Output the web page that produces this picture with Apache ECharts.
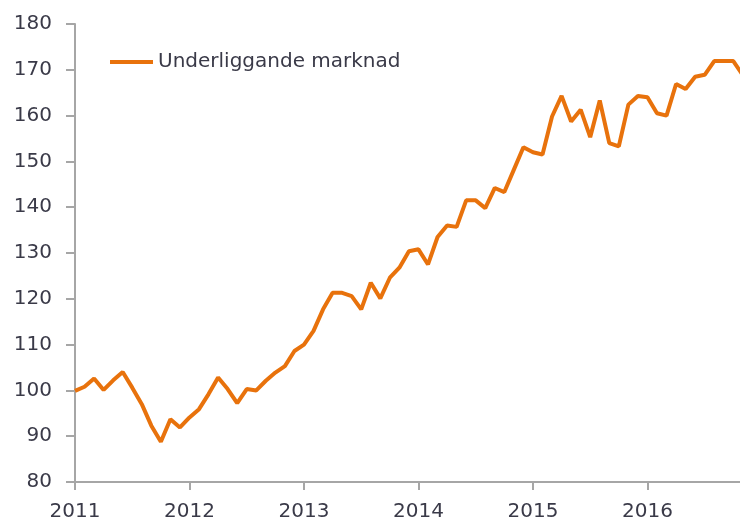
<!DOCTYPE html>
<html>
<head>
<meta charset="utf-8">
<script src="https://cdn.jsdelivr.net/npm/echarts@6/dist/echarts.min.js"></script>
<style>
	html, body { margin: 0; padding: 0; background: #fff; }
	#main { width: 740px; height: 522px; }
</style>
</head>
<body>
<div id="main"></div>
<script>
// monthly index, starting January 2011
var startYear = 2011;
var seriesName = 'Underliggande marknad';
var values = [
	99.9, 100.8, 102.6, 100.1, 102.2, 104.0, 100.6, 97.0, 92.3, 88.8, 93.7, 91.9,
	94.1, 95.9, 99.2, 102.8, 100.3, 97.2, 100.3, 100.0, 102.1, 103.9, 105.3, 108.6,
	110.0, 113.0, 117.7, 121.3, 121.3, 120.6, 117.7, 123.5, 120.1, 124.6, 126.8, 130.4,
	130.8, 127.5, 133.5, 136.0, 135.7, 141.5, 141.5, 139.8, 144.2, 143.3, 148.2, 153.1,
	152.0, 151.5, 159.8, 164.3, 158.7, 161.3, 155.3, 163.3, 154.0, 153.3, 162.4, 164.3,
	164.0, 160.5, 160.0, 166.9, 165.8, 168.5, 168.9, 171.9, 171.9, 171.9, 168.8
];

var lineData = [];
for (var i = 0, l = values.length; i < l; i++) {
	lineData.push([i, values[i]]);
}

var textColor = '#3a3a48';
var axisColor = '#a6a6a6';
var fontFamily = 'DejaVu Sans';

var chart = echarts.init(document.getElementById('main'), null, {renderer: 'canvas'});

var option = {
	animation: false,
	grid: {
		left: 75,
		top: 24,
		right: 0,
		bottom: 38
	},
	legend: {
		left: 110,
		top: 52,
		padding: 0,
		icon: 'rect',
		itemWidth: 43,
		itemHeight: 4,
		textStyle: {
			color: textColor,
			fontFamily: fontFamily,
			fontSize: 20
		},
		data: [seriesName]
	},
	xAxis: {
		type: 'value',
		min: 0,
		max: 69.7,
		interval: 12,
		splitLine: {show: false},
		axisLine: {lineStyle: {color: axisColor, width: 2}},
		axisTick: {show: true, length: 8, lineStyle: {color: axisColor, width: 2}},
		axisLabel: {
			color: textColor,
			fontFamily: fontFamily,
			fontSize: 20,
			margin: 20,
			showMaxLabel: false,
			formatter: function (v) {
				return v % 12 === 0 ? String(startYear + v / 12) : '';
			}
		}
	},
	yAxis: {
		type: 'value',
		min: 80,
		max: 180,
		interval: 10,
		splitLine: {show: false},
		axisLine: {show: true, lineStyle: {color: axisColor, width: 2}},
		axisTick: {show: true, length: 9, lineStyle: {color: axisColor, width: 2}},
		axisLabel: {
			color: textColor,
			fontFamily: fontFamily,
			fontSize: 20,
			margin: 23
		}
	},
	series: [
		{
			name: seriesName,
			type: 'line',
			showSymbol: false,
			clip: true,
			color: '#e8720c',
			lineStyle: {width: 4, color: '#e8720c'},
			data: lineData
		}
	]
};

chart.setOption(option);
</script>
</body>
</html>
